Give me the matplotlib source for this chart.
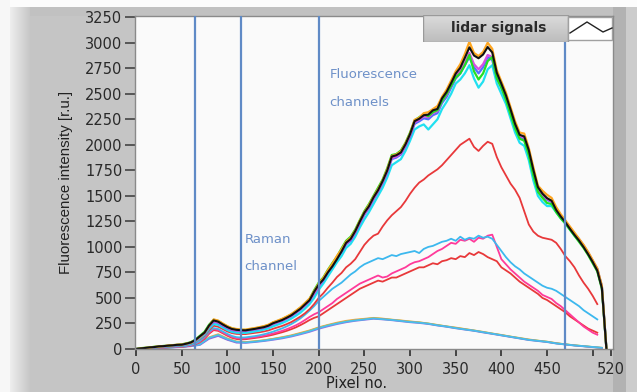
import numpy as np
import matplotlib
matplotlib.use("Agg")
import matplotlib.pyplot as plt
from matplotlib.patches import Rectangle

# ---------------- data ----------------
pixels = list(range(0, 520, 5))          # 0..515, step 5
pixels_low = list(range(0, 520, 10))     # 0..510, step 10
nan = float("nan")

black = [0, 6, 10, 16, 19, 26, 28, 33, 36, 41, 42, 52, 64, 88, 125, 160, 230, 280, 268, 240,
         215, 196, 188, 184, 183, 190, 197, 206, 214, 229, 252, 268, 284, 306, 330, 362, 394, 436, 478, 560,
         630, 680, 750, 810, 880, 955, 1040, 1078, 1155, 1248, 1335, 1398, 1485, 1556, 1645, 1748, 1885, 1898, 1925, 2005,
         2105, 2232, 2255, 2290, 2296, 2338, 2352, 2455, 2518, 2605, 2698, 2755, 2852, 2955, 2875, 2848, 2885, 2958, 2905, 2705,
         2598, 2485, 2348, 2205, 2098, 2082, 1948, 1755, 1585, 1522, 1478, 1452, 1362, 1298, 1242, 1178, 1118, 1062, 998, 928,
         852, 768, 598, 0]
green = [0, 8, 12, 15, 22, 24, 30, 31, 38, 40, 45, 55, 66, 92, 130, 168, 238, 286, 274, 246,
         220, 202, 192, 188, 186, 194, 202, 210, 220, 234, 258, 274, 292, 314, 338, 370, 404, 446, 490, 575,
         650, 700, 775, 842, 905, 985, 1060, 1100, 1170, 1262, 1350, 1420, 1500, 1580, 1660, 1770, 1900, 1910, 1945, 2020,
         2120, 2240, 2270, 2300, 2280, 2320, 2340, 2430, 2500, 2580, 2660, 2700, 2780, 2880, 2720, 2640, 2700, 2820, 2860, 2650,
         2560, 2440, 2300, 2160, 2060, 2040, 1900, 1700, 1540, 1480, 1430, 1420, 1340, 1280, 1230, 1170, 1110, 1050, 990, 920,
         840, 760, 590, 0]
orange = [0, 5, 11, 14, 20, 25, 27, 34, 37, 42, 44, 53, 62, 86, 120, 158, 225, 290, 278, 250,
          224, 204, 196, 190, 190, 198, 205, 214, 224, 238, 262, 278, 296, 318, 342, 374, 408, 450, 494, 565,
          640, 695, 770, 835, 912, 975, 1050, 1090, 1160, 1255, 1340, 1410, 1490, 1565, 1650, 1760, 1890, 1905, 1935, 2015,
          2110, 2245, 2265, 2310, 2320, 2350, 2380, 2470, 2540, 2630, 2720, 2790, 2890, 3010, 2900, 2870, 2910, 3000, 2940, 2730,
          2620, 2510, 2370, 2230, 2120, 2110, 1970, 1780, 1600, 1550, 1510, 1480, 1390, 1320, 1260, 1200, 1140, 1080, 1020, 950,
          870, 790, 620, 0]
cyan = [0, 4, 8, 12, 16, 20, 23, 27, 30, 34, 36, 44, 54, 75, 106, 140, 200, 245, 236, 210,
        186, 168, 160, 158, 158, 164, 172, 180, 190, 202, 222, 238, 254, 274, 298, 326, 356, 396, 440, 500,
        580, 640, 710, 780, 850, 910, 990, 1030, 1100, 1190, 1270, 1340, 1420, 1500, 1580, 1680, 1800, 1830, 1860, 1940,
        2040, 2150, 2180, 2200, 2150, 2200, 2250, 2350, 2420, 2500, 2600, 2640, 2700, 2780, 2650, 2560, 2620, 2740, 2780, 2600,
        2500, 2400, 2260, 2120, 2020, 1990, 1850, 1650, 1500, 1440, 1400, 1400, 1340, 1280, 1230, 1170, 1110, 1060, 1000, 940,
        860, 780, 610, 0]
blue = [0, 6, 9, 14, 18, 23, 26, 30, 34, 38, 40, 50, 60, 82, 116, 152, 218, 266, 256, 228,
        204, 186, 178, 176, 176, 184, 190, 198, 208, 222, 244, 260, 276, 298, 322, 352, 386, 426, 470, 540,
        612, 672, 748, 812, 888, 950, 1025, 1062, 1138, 1230, 1315, 1380, 1465, 1540, 1625, 1728, 1860, 1875, 1905, 1985,
        2080, 2205, 2230, 2260, 2250, 2290, 2310, 2410, 2470, 2560, 2650, 2700, 2780, 2860, 2760, 2700, 2760, 2860, 2830, 2660,
        2560, 2450, 2320, 2180, 2080, 2060, 1920, 1730, 1560, 1500, 1460, 1440, 1360, 1300, 1250, 1190, 1130, 1075, 1015, 945,
        865, 785, 615, 0]
magenta = [0, 5, 10, 13, 19, 22, 27, 30, 35, 39, 41, 51, 63, 84, 120, 156, 224, 272, 262, 234,
           210, 190, 182, 180, 180, 188, 194, 202, 212, 226, 248, 264, 280, 302, 326, 358, 390, 430, 474, 546,
           615, 680, 755, 820, 895, 960, 1035, 1070, 1145, 1240, 1325, 1390, 1475, 1550, 1635, 1738, 1870, 1885, 1915, 1995,
           2095, 2220, 2245, 2280, 2270, 2310, 2330, 2430, 2490, 2580, 2670, 2720, 2800, 2900, 2790, 2740, 2790, 2880, 2860, 2680,
           2580, 2470, 2330, 2190, 2090, 2070, 1935, 1740, 1570, 1510, 1470, 1445, 1365, 1305, 1250, 1190, 1130, 1075, 1010, 940,
           860, 780, 610, 0]
red_mid = [0, 4, 8, 11, 15, 18, 21, 24, 27, 30, 33, 40, 50, 70, 98, 130, 185, 228, 218, 196,
           172, 156, 148, 146, 146, 152, 158, 164, 172, 182, 198, 212, 226, 244, 264, 290, 318, 350, 390, 440,
           500, 545, 600, 650, 705, 745, 800, 835, 880, 950, 1020, 1070, 1110, 1130, 1200, 1260, 1310, 1350, 1390, 1450,
           1520, 1580, 1630, 1660, 1700, 1730, 1760, 1800, 1850, 1900, 1950, 2000, 2030, 2060, 1980, 1940, 1990, 2030, 2010, 1880,
           1780, 1700, 1620, 1560, 1480, 1350, 1220, 1150, 1110, 1090, 1080, 1070, 1040, 980, 910, 860, 800, 720, 650, 590,
           520, 440, nan, nan]
cyan_2 = [0, 3, 6, 9, 12, 15, 17, 20, 22, 25, 27, 32, 40, 54, 80, 120, 170, 205, 196, 172,
          148, 128, 116, 112, 114, 120, 126, 134, 144, 156, 170, 186, 202, 222, 244, 270, 300, 336, 376, 420,
          470, 510, 550, 590, 620, 650, 690, 730, 760, 800, 830, 850, 870, 890, 880, 900, 920, 910, 930, 940,
          950, 960, 940, 980, 1000, 1010, 1030, 1050, 1060, 1080, 1060, 1100, 1070, 1090, 1080, 1110, 1090, 1100, 1080, 1020,
          960, 900, 850, 810, 780, 740, 710, 680, 650, 620, 600, 590, 570, 540, 510, 480, 450, 420, 380, 350,
          320, 290, nan, nan]
magenta_2 = [0, 3, 5, 8, 11, 13, 15, 18, 20, 23, 25, 29, 36, 50, 74, 110, 160, 195, 186, 162,
             138, 118, 106, 102, 104, 110, 116, 122, 130, 140, 152, 164, 178, 194, 212, 232, 256, 284, 314, 340,
             360, 390, 420, 450, 490, 520, 550, 580, 610, 640, 660, 680, 700, 720, 700, 710, 740, 760, 780, 800,
             830, 850, 860, 880, 900, 930, 960, 980, 1010, 1040, 1030, 1070, 1060, 1080, 1050, 1090, 1080, 1110, 1120, 1000,
             880, 830, 780, 740, 700, 660, 630, 600, 570, 530, 510, 490, 450, 420, 380, 340, 300, 260, 220, 190,
             160, 140, nan, nan]
red_2 = [0, 3, 5, 7, 10, 12, 14, 16, 19, 21, 23, 27, 33, 46, 68, 100, 150, 185, 178, 154,
         130, 110, 98, 94, 96, 102, 108, 114, 122, 130, 140, 152, 164, 178, 194, 212, 234, 258, 284, 305,
         320, 350, 380, 410, 440, 470, 500, 530, 560, 590, 610, 630, 650, 670, 660, 680, 700, 700, 720, 740,
         760, 780, 800, 800, 820, 840, 830, 860, 870, 890, 880, 910, 900, 940, 920, 950, 930, 900, 880, 860,
         800, 770, 740, 700, 660, 630, 600, 570, 540, 500, 480, 450, 420, 390, 360, 320, 290, 260, 230, 200,
         180, 160, nan, nan]
low_cyan = [0, 4, 8, 12, 16, 22, 30, 45, 110, 138, 98, 70, 64, 72, 82, 95, 110, 128, 150, 175,
            205, 230, 250, 268, 280, 290, 300, 292, 285, 275, 265, 258, 248, 232, 220, 205, 192, 180, 165, 150,
            135, 120, 105, 90, 80, 70, 55, 45, 35, 28, 20, 12]
low_orange = [0, 5, 9, 13, 18, 24, 32, 48, 115, 145, 104, 74, 68, 76, 86, 100, 116, 134, 158, 182,
              212, 236, 258, 276, 288, 296, 305, 298, 288, 280, 270, 262, 250, 236, 222, 210, 196, 182, 168, 152,
              138, 122, 108, 94, 82, 72, 58, 46, 36, 28, 20, 12]
low_purple = [0, 3, 7, 11, 15, 20, 27, 40, 100, 128, 90, 62, 60, 68, 78, 90, 104, 122, 144, 168,
              198, 222, 244, 262, 276, 286, 296, 290, 282, 272, 262, 255, 245, 230, 218, 203, 190, 178, 162, 148,
              133, 118, 103, 88, 78, 68, 54, 44, 34, 26, 18, 10]
low_green = [0, 4, 8, 12, 17, 23, 31, 46, 106, 134, 95, 68, 66, 74, 84, 98, 112, 130, 152, 178,
             208, 232, 252, 270, 282, 292, 302, 295, 286, 277, 268, 260, 249, 234, 221, 207, 194, 181, 166, 151,
             136, 121, 106, 91, 81, 71, 56, 46, 36, 28, 19, 11]

channel_bounds = [65, 115, 200, 470]
y_ticks = list(range(0, 3251, 250))
x_ticks = [0, 50, 100, 150, 200, 250, 300, 350, 400, 450, 500, 520]
x_tick_labels = ["0", "50", "100", "150", "200", "250", "300", "350", "400", "450", "", "520"]

# ---------------- figure ----------------
W, H = 637, 392
fig = plt.figure(figsize=(W / 100, H / 100), dpi=100)

def fx(px):
    return px / W

def fy(py):
    return 1 - py / H

# background (window chrome look)
bg = np.full((H, W, 3), 0.775)
bg[:7, :, :] = 0.99
bg[:, :10, :] = 0.97
for c in range(10, 30):
    bg[7:, c, :] = 0.93 - (c - 10) * (0.93 - 0.775) / 20
bg[7:16, 30:, :] = 0.76
bg[7:, 613:626, :] = 0.70
bg[7:, 626:, :] = 0.80
ax_bg = fig.add_axes([0, 0, 1, 1], zorder=-5)
ax_bg.imshow(bg, extent=[0, W, H, 0], aspect="auto", interpolation="bilinear")
ax_bg.set_axis_off()

L, R, T, B = 135, 613, 16, 349
ax = fig.add_axes([fx(L), fy(B), fx(R) - fx(L), fy(T) - fy(B)])
ax.set_facecolor("#fafafa")
ax.set_xlim(-1.1, 522.2)
ax.set_ylim(0, 3262)

lw = 1.3
for series, col in [(low_green, "#66dd55"), (low_orange, "#f0a030"),
                    (low_purple, "#8a5ce0"), (low_cyan, "#40c8f0")]:
    ax.plot(pixels_low, series, color=col, lw=lw, alpha=0.9)
for series, col in [(red_2, "#e8383a"), (magenta_2, "#ff3a9a"), (cyan_2, "#3cb8ee")]:
    ax.plot(pixels, series, color=col, lw=lw)
ax.plot(pixels, red_mid, color="#e8383a", lw=lw)
for series, col in [(cyan, "#20e0f0"), (blue, "#5070ff"), (magenta, "#d850e0"),
                    (green, "#22e022"), (orange, "#ffa620")]:
    ax.plot(pixels, series, color=col, lw=1.6)
ax.plot(pixels, black, color="#111111", lw=1.5)

for xb in channel_bounds:
    ax.axvline(xb, color="#5f8ac6", lw=1.6, zorder=5)

ann_col = "#6d90c8"
ax.text(212, 2690, "Fluorescence", color=ann_col, fontsize=9.5, va="center", ha="left")
ax.text(212, 2410, "channels", color=ann_col, fontsize=9.5, va="center", ha="left")
ax.text(119, 1070, "Raman", color=ann_col, fontsize=9.5, va="center", ha="left")
ax.text(119, 812, "channel", color=ann_col, fontsize=9.5, va="center", ha="left")

ax.set_yticks(y_ticks)
ax.set_xticks(x_ticks)
ax.set_xticklabels(x_tick_labels)
ax.tick_params(axis="y", direction="out", length=7, width=1.2, color="#444444",
               labelsize=10.5, labelcolor="#2a2a2a", pad=2)
ax.tick_params(axis="x", direction="out", length=5, width=1.4, color="#444444",
               labelsize=10.5, labelcolor="#2a2a2a", pad=4)
for s in ax.spines.values():
    s.set_color("#8a8a8a")
    s.set_linewidth(1.0)

fig.text(fx(66), fy(182), "Fluorescence intensity [r.u.]", rotation=90,
         ha="center", va="center", fontsize=10.8, color="#222222",
         family="Liberation Sans")
fig.text(fx(357), fy(376), "Pixel no.", ha="center", va="top",
         fontsize=10.5, color="#222222")

# legend (LabVIEW style plot legend)
lx0, lx1, ly0, ly1 = 423, 613, 15, 42
ax_leg = fig.add_axes([fx(lx0), fy(ly1), fx(lx1) - fx(lx0), fy(ly0) - fy(ly1)], zorder=10)
ax_leg.set_xlim(0, lx1 - lx0)
ax_leg.set_ylim(0, ly1 - ly0)
ax_leg.set_axis_off()
grad = np.linspace(0.86, 0.74, 27)[:, None, None] * np.ones((27, 145, 3))
ax_leg.imshow(grad, extent=[0, 145, 0, 27], aspect="auto")
ax_leg.add_patch(Rectangle((0, 0), 145, 27, fill=False, ec="#9a9a9a", lw=1))
ax_leg.text(76, 14, "lidar signals", ha="center", va="center", fontsize=10,
            fontweight="bold", color="#2a2a2a")
ax_leg.add_patch(Rectangle((145, 2), 44, 23, fc="white", ec="#a0a0a0", lw=1))
ax_leg.plot([147, 164, 180, 189], [9, 20, 10, 14], color="#222222", lw=1)

fig.savefig("out.png", dpi=100)
